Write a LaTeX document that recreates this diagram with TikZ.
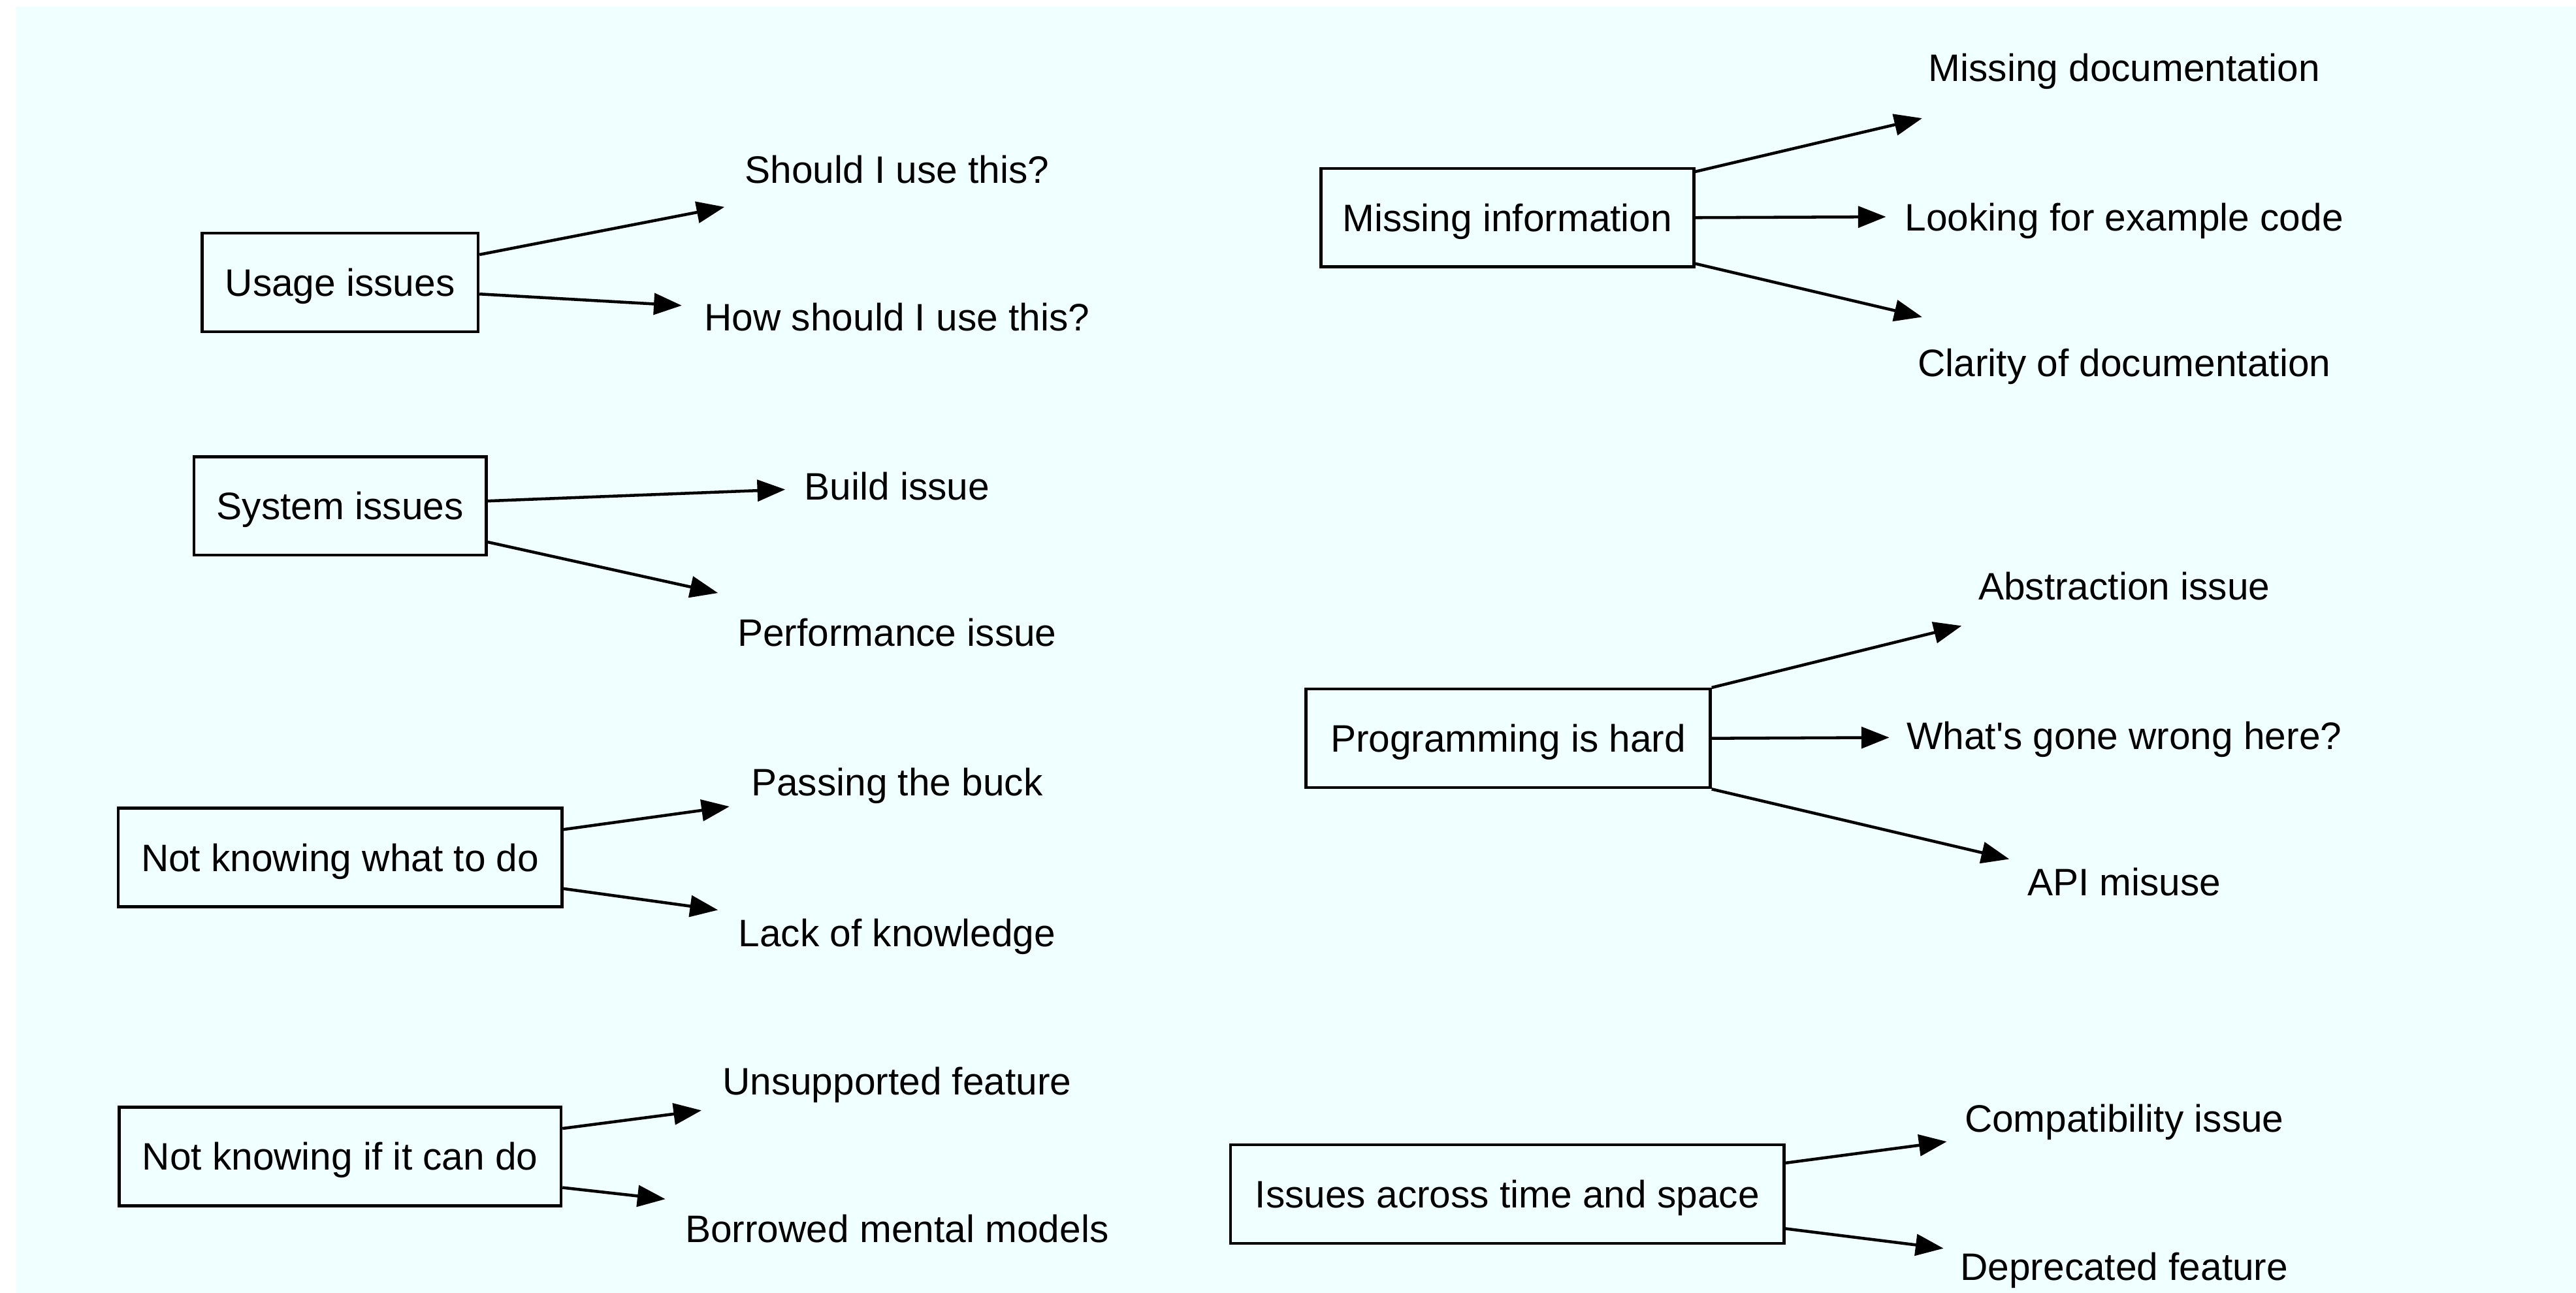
\documentclass[tikz,border=0pt]{standalone}
\usepackage{fontspec}
\setmainfont{Liberation Sans}
\usetikzlibrary{arrows.meta}
\definecolor{bgc}{HTML}{F0FFFF}
\begin{document}
\begin{tikzpicture}[x=1pt,y=-1pt,
  every node/.style={font=\fontsize{23.3}{28}\selectfont, inner sep=0pt, text height=16.7pt, text depth=0pt},
  catbox/.style={draw=black, line width=1.8pt, minimum height=60pt},
  leaf/.style={},
  arr/.style={line width=1.8pt, -{Triangle[length=17pt,width=13pt]}}]
\useasboundingbox (0,0) rectangle (1568,787);
\fill[bgc] (9.5,4) rectangle (1568,787);

% left column boxes
\node[catbox, minimum width=168pt] (usage) at (207,172) {Usage issues};
\node[catbox, minimum width=178pt] (system) at (207,308) {System issues};
\node[catbox, minimum width=270pt] (nkwhat) at (207,522) {Not knowing what to do};
\node[catbox, minimum width=269pt] (nkif) at (207,704) {Not knowing if it can do};

% right column boxes
\node[catbox, minimum width=227pt] (missing) at (917.5,132.5) {Missing information};
\node[catbox, minimum width=246pt] (prog) at (918,449.5) {Programming is hard};
\node[catbox, minimum width=337pt] (across) at (917.5,727) {Issues across time and space};

% left leaves
\node[leaf] (should) at (546,103) {Should I use this?};
\node[leaf] (how) at (546,193) {How should I use this?};
\node[leaf] (build) at (546,296) {Build issue};
\node[leaf] (perf) at (546,385) {Performance issue};
\node[leaf] (buck) at (546,476) {Passing the buck};
\node[leaf] (lack) at (546,568) {Lack of knowledge};
\node[leaf] (unsup) at (546,658) {Unsupported feature};
\node[leaf] (borrow) at (546,748) {Borrowed mental models};

% right leaves
\node[leaf] (mdoc) at (1293,41) {Missing documentation};
\node[leaf] (example) at (1293,132) {Looking for example code};
\node[leaf] (clarity) at (1293,221) {Clarity of documentation};
\node[leaf] (abstr) at (1293,357) {Abstraction issue};
\node[leaf] (wrong) at (1293,448) {What\textquotesingle s gone wrong here?};
\node[leaf] (api) at (1293,537) {API misuse};
\node[leaf] (compat) at (1293,681) {Compatibility issue};
\node[leaf] (deprec) at (1293,771) {Deprecated feature};

% connectors
\draw[arr] ([yshift=17pt]usage.east) -- ([xshift=-105pt,yshift=-23pt]should.center);
\draw[arr] ([yshift=-7pt]usage.east) -- ([xshift=-131pt,yshift=7pt]how.center);
\draw[arr] ([yshift=3pt]system.east) -- ([xshift=-68pt,yshift=-2pt]build.center);
\draw[arr] ([yshift=-22pt]system.east) -- ([xshift=-109pt,yshift=24pt]perf.center);
\draw[arr] ([yshift=17pt]nkwhat.east) -- ([xshift=-102pt,yshift=-15pt]buck.center);
\draw[arr] ([yshift=-19pt]nkwhat.east) -- ([xshift=-109pt,yshift=14pt]lack.center);
\draw[arr] ([yshift=17pt]nkif.east) -- ([xshift=-119pt,yshift=-18pt]unsup.center);
\draw[arr] ([yshift=-19pt]nkif.east) -- ([xshift=-141pt,yshift=18pt]borrow.center);

\draw[arr] ([yshift=28pt]missing.east) -- ([xshift=-123pt,yshift=-31pt]mdoc.center);
\draw[arr] (missing.east) -- ([xshift=-145pt]example.center);
\draw[arr] ([yshift=-28pt]missing.east) -- ([xshift=-123pt,yshift=28pt]clarity.center);
\draw[arr] (prog.north east) -- ([xshift=-99pt,yshift=-24pt]abstr.center);
\draw[arr] (prog.east) -- ([xshift=-143pt,yshift=-1pt]wrong.center);
\draw[arr] (prog.south east) -- ([xshift=-70pt,yshift=14pt]api.center);
\draw[arr] ([yshift=19pt]across.east) -- ([xshift=-108pt,yshift=-14pt]compat.center);
\draw[arr] ([yshift=-21pt]across.east) -- ([xshift=-110pt,yshift=11pt]deprec.center);
\end{tikzpicture}
\end{document}
